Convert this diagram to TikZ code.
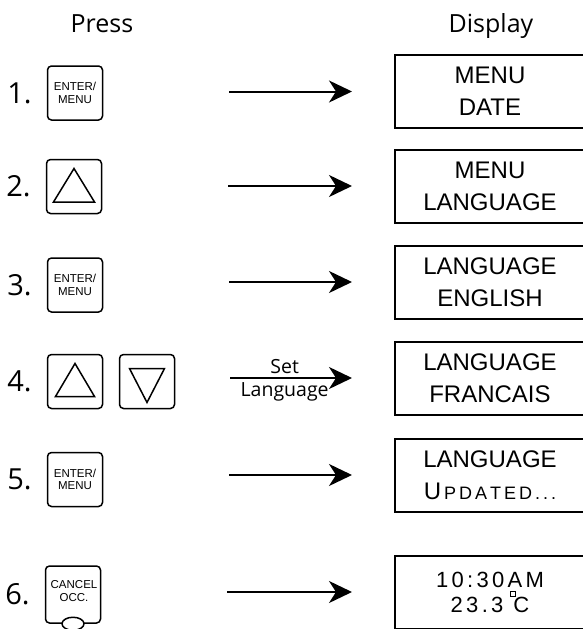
\documentclass[tikz,border=0pt]{standalone}
\usepackage{fontspec}
\setmainfont{Open Sans}
\newfontfamily\lcdfont{Liberation Sans}
\newfontfamily\lcdwide[LetterSpace=15]{Liberation Sans}
\usepackage{tikz}
\usetikzlibrary{arrows.meta}
\tikzstyle{edge}=[->, shorten >=42pt,
                  >={Stealth[length=23pt,width=22pt,inset=7pt]},
                  line width=2pt]
\tikzstyle{keypad}=[rectangle, draw, rounded corners=4pt,
                    line width=1.5pt, minimum width=55pt,
                    minimum height=54pt, inner sep=0pt, align=center,
                    font=\lcdfont\fontsize{11.5}{12.5}\selectfont]
\tikzstyle{lcd}=[rectangle, draw, line width=2pt,
                 minimum width=190pt, minimum height=73pt,
                 inner sep=0pt, align=center,
                 font=\lcdfont\fontsize{24}{32}\selectfont]
\tikzstyle{tri}=[line width=1.5pt, line join=miter]

\begin{document}
\begin{tikzpicture}[x=1pt, y=-1pt,
    every label/.style={font=\fontsize{29}{30}\selectfont, inner sep=0pt},
    label distance=15pt]
     \useasboundingbox (0,0) rectangle (583,629);

     \node (press) at (102,32) [anchor=base, font=\fontsize{25}{28}\selectfont] {Press};
     \node (display) at (491,32) [anchor=base, font=\fontsize{25}{28}\selectfont] {Display};

     % keys
     \node (b1)  at (75,93)    [keypad, label=left:{1.}] {ENTER/\\MENU};
     \node (b2)  at (74,186.5) [keypad, label=left:{2.}] {};
     \node (b3)  at (75,285)   [keypad, label=left:{3.}] {ENTER/\\MENU};
     \node (b4a) at (75,381.5) [keypad, label=left:{4.}] {};
     \node (b4b) at (147,381.5)[keypad] {};
     \node (b5)  at (75,479.5) [keypad, label=left:{5.}] {ENTER/\\MENU};
     \node (b6)  at (73,594.5) [keypad, minimum height=57pt, label=left:{6.}] {};
     \node (b6t) at (74,591)   [font=\lcdfont\fontsize{11.5}{12.5}\selectfont,
                                align=center, inner sep=0pt] {CANCEL\\OCC.};

     \draw [tri, shift={(b2)}]  (0,-18) -- (20.5,15.5) -- (-20.5,15.5) -- cycle;
     \draw [tri, shift={(b4a)}] (0,-18) -- (19.5,15) -- (-19.5,15) -- cycle;
     \draw [tri, shift={(b4b)}] (0,21) -- (17.5,-13) -- (-17.5,-13) -- cycle;
     \draw [line width=1.5pt, fill=white] (b6.south) ellipse [x radius=11, y radius=6.5];

     % displays
     \node (d1) at (490,91.5) [lcd] {MENU\\DATE};
     \node (d2) at (490,186)  [lcd] {MENU\\LANGUAGE};
     \node (d3) at (490,282)  [lcd] {LANGUAGE\\ENGLISH};
     \node (d4) at (490,378)  [lcd] {LANGUAGE\\FRANCAIS};
     \node (d5) at (490,475)  [lcd] {LANGUAGE\\U{\fontsize{18}{32}\selectfont\,P\,D\,A\,T\,E\,D\,.\,.\,.}};
     \node (d6) at (490,592)  [lcd, font=\lcdwide\fontsize{22}{25}\selectfont]
                              {10:30AM\\23.3\hspace{10pt}C};
     \draw [line width=1pt, shift={(d6)}] (20,-1) rectangle (25,4);

     \foreach \u/\v in {b1/d1,b2/d2,b3/d3,b5/d5,b6/d6}
       \draw [edge, shorten <=126pt] (\u.east |- \v.west) to (\v.west);
     \draw [edge, shorten <=55pt] (b4b.east |- d4.west) to
           node [pos=0.5, above, font=\fontsize{19.5}{21}\selectfont] {Set}
           node [pos=0.5, below, font=\fontsize{19.5}{21}\selectfont] {Language}
           (d4.west);
     \end{tikzpicture}
\end{document}
